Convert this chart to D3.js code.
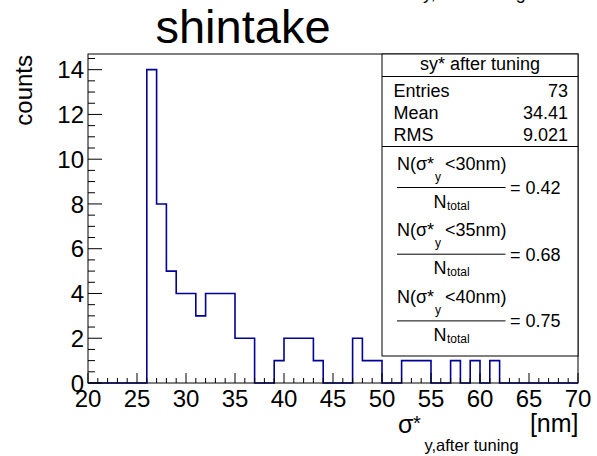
<!DOCTYPE html>
<html><head><meta charset="utf-8">
<script src="https://cdn.jsdelivr.net/npm/d3@7/dist/d3.min.js"></script>
<style>body{margin:0;background:#fff}svg{display:block}text{font-family:"Liberation Sans",Arial,sans-serif;fill:#000}</style>
</head><body><svg id="c" width="597" height="456"></svg>
<script>
// ---- data ----
const binStart = 20, binWidth = 1;
const counts = [0,0,0,0,0,0,14,8,5,4,4,3,4,4,4,2,2,0,0,1,2,2,2,1,0,0,0,2,1,1,0,0,1,1,1,0,0,1,0,1,0,1,0,0,0,0,0,0,0,0];
const xTicks = [20,25,30,35,40,45,50,55,60,65,70];
const yTicks = [0,2,4,6,8,10,12,14];
const chartTitle = "shintake";
const yTitle = "counts";
const statsTitle = "sy* after tuning";
const statsNames = ["Entries","Mean","RMS"];
const statsValues = ["73","34.41","9.021"];
const fracCuts = ["30","35","40"];
const fracValues = ["0.42","0.68","0.75"];

// ---- layout ----
const svg = d3.select("#c");
const L = 88, R = 578, T = 54, B = 383;
const x = d3.scaleLinear().domain([20,70]).range([L,R]);
const y = d3.scaleLinear().domain([0,14.7]).range([B,T]);

// histogram step path
const pts = [];
counts.forEach((v,i)=>{ const x0 = binStart + i*binWidth; pts.push([x0,v]); pts.push([x0+binWidth,v]); });
svg.append("path").attr("d", d3.line().x(d=>x(d[0])).y(d=>y(d[1]))(pts))
  .attr("fill","none").attr("stroke","#000099").attr("stroke-width",1.6);

// frame
svg.append("rect").attr("x",L).attr("y",T).attr("width",R-L).attr("height",B-T)
  .attr("fill","none").attr("stroke","#000").attr("stroke-width",1);

// y ticks
d3.range(0,14.7,0.5).forEach(v=>{
  const major = Math.abs(v%2)<1e-9;
  svg.append("line").attr("x1",L).attr("x2",L+(major?14:7)).attr("y1",y(v)).attr("y2",y(v))
    .attr("stroke","#000").attr("stroke-width",1);
});
yTicks.forEach(v=>{
  svg.append("text").attr("x",84).attr("y",y(v)+8.6).attr("text-anchor","end")
    .attr("font-size",24).text(v);
});
// x ticks
d3.range(20,71,1).forEach(v=>{
  const major = v%5===0;
  svg.append("line").attr("x1",x(v)).attr("x2",x(v)).attr("y1",B).attr("y2",B-(major?10:5))
    .attr("stroke","#000").attr("stroke-width",1);
});
xTicks.forEach(v=>{
  svg.append("text").attr("x",x(v)).attr("y",407).attr("text-anchor","middle")
    .attr("font-size",24).text(v);
});

// titles
svg.append("text").attr("x",243).attr("y",43).attr("text-anchor","middle").attr("font-size",47).text(chartTitle);
svg.append("text").attr("transform","translate(31.5,55) rotate(-90)").attr("text-anchor","end")
  .attr("font-size",24).text(yTitle);
// x axis title
svg.append("text").attr("x",398).attr("y",433).attr("font-size",25).text("σ");
svg.append("text").attr("x",413).attr("y",430).attr("font-size",20).text("*");
svg.append("text").attr("x",424.5).attr("y",450.5).attr("font-size",16.5).text("y,after tuning");
svg.append("text").attr("x",R+0.5).attr("y",432).attr("text-anchor","end").attr("font-size",25).text("[nm]");
// clipped duplicate subscript at top edge
svg.append("text").attr("x",423).attr("y",-1).attr("font-size",18).text("y,after tuning");

// stats box
const bx = 382, bB = 356;
svg.append("rect").attr("x",bx).attr("y",T).attr("width",R-bx).attr("height",bB-T)
  .attr("fill","#fff").attr("stroke","#000").attr("stroke-width",1);
svg.append("line").attr("x1",bx).attr("x2",R).attr("y1",76.5).attr("y2",76.5).attr("stroke","#000");
svg.append("line").attr("x1",bx).attr("x2",R).attr("y1",146.5).attr("y2",146.5).attr("stroke","#000");
svg.append("text").attr("x",(bx+R)/2).attr("y",70).attr("text-anchor","middle").attr("font-size",18).text(statsTitle);
statsNames.forEach((n,i)=>{
  const yy = 97 + i*22;
  svg.append("text").attr("x",393.5).attr("y",yy).attr("font-size",18).text(n);
  svg.append("text").attr("x",568).attr("y",yy).attr("text-anchor","end").attr("font-size",18).text(statsValues[i]);
});
fracCuts.forEach((c,i)=>{
  const oy = i*66.7;
  const g = svg.append("g").attr("transform",`translate(0,${oy})`);
  g.append("text").attr("x",397).attr("y",169.5).attr("font-size",18).text("N(σ*");
  g.append("text").attr("x",435).attr("y",180.5).attr("font-size",12).text("y");
  g.append("text").attr("x",445).attr("y",169.5).attr("font-size",18).text("<"+c+"nm)");
  g.append("line").attr("x1",397).attr("x2",505.5).attr("y1",187.5).attr("y2",187.5).attr("stroke","#000").attr("stroke-width",1);
  g.append("text").attr("x",433.5).attr("y",207.7).attr("font-size",18).text("N");
  g.append("text").attr("x",447).attr("y",209.5).attr("font-size",12).text("total");
  g.append("text").attr("x",510).attr("y",194).attr("font-size",18).text("= "+fracValues[i]);
});
</script></body></html>
